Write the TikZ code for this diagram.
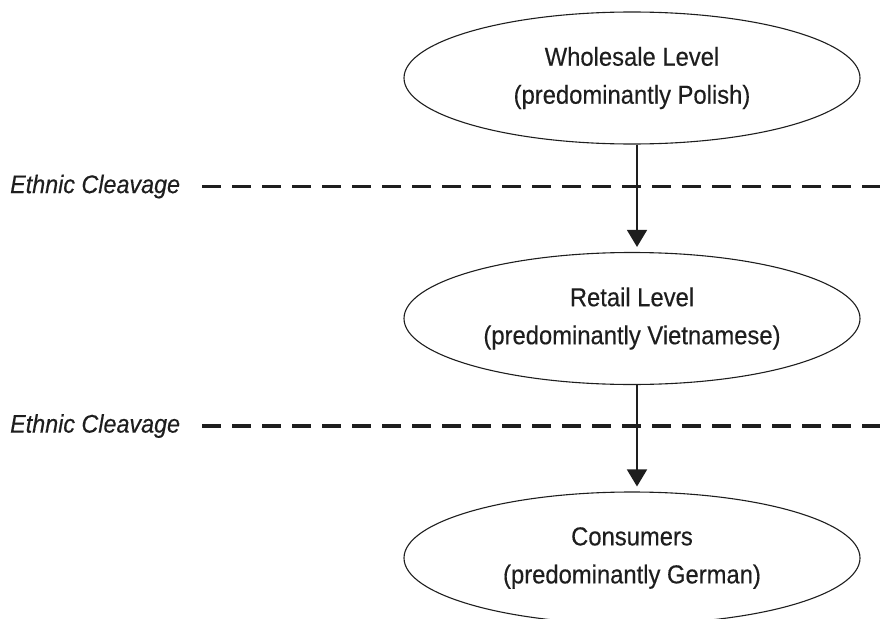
\documentclass[tikz,border=0pt]{standalone}
\usepackage{fontspec}
\setmainfont[FakeStretch=0.915,FakeBold=0.35]{Liberation Sans}
\usetikzlibrary{shapes.geometric,arrows.meta}
\definecolor{ink}{HTML}{1E1E1E}
\tikzset{
  level/.style={ellipse, draw=ink, line width=1.1pt, inner sep=0pt,
    minimum width=456pt, minimum height=132pt, align=center, text=ink,
    font=\fontsize{26}{38}\selectfont},
  cleave/.style={draw=ink, line width=3.2pt, dash pattern=on 19pt off 11pt},
  cleavelabel/.style={anchor=west, inner sep=0pt, text=ink,
    font=\fontsize{25.5}{30}\selectfont\itshape},
  flow/.style={draw=ink, line width=1.5pt, -{Triangle[length=17pt,width=20pt]}}
}
\begin{document}
\begin{tikzpicture}[x=1pt,y=-1pt]
\useasboundingbox (0,0) rectangle (880,618);
\node[level] (top) at (632,78) {Wholesale Level\\(predominantly Polish)};
\node[level] (mid) at (632,318.5) {Retail Level\\(predominantly Vietnamese)};
\node[level] (bot) at (632,558) {Consumers\\(predominantly German)};
\node[cleavelabel] (lab1) at (10,186.5) {Ethnic Cleavage};
\node[cleavelabel] (lab2) at (10,426) {Ethnic Cleavage};
\coordinate (d1s) at (202,186.5);
\coordinate (d1e) at (880,186.5);
\coordinate (d2s) at (202,426);
\coordinate (d2e) at (880,426);
\draw[cleave] (d1s) -- (d1e);
\draw[cleave] (d2s) -- (d2e);
\draw[flow] ([xshift=5pt]top.south) -- ([xshift=5pt,yshift=5pt]mid.north);
\draw[flow] ([xshift=5pt]mid.south) -- ([xshift=5pt,yshift=5pt]bot.north);
\end{tikzpicture}
\end{document}
